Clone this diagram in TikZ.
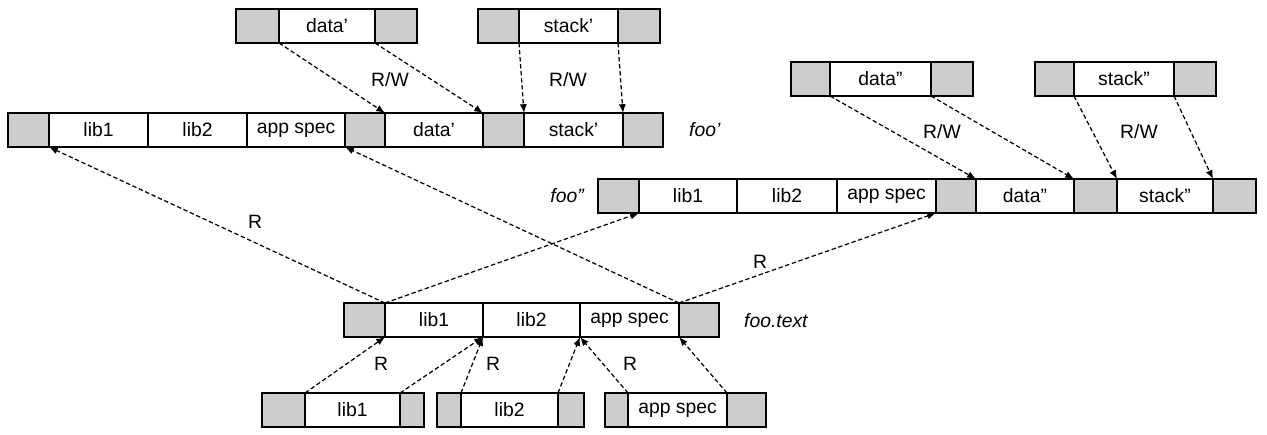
\documentclass[tikz,border=0pt]{standalone}
\usepackage{fontspec}
\setmainfont{Liberation Sans}
\usetikzlibrary{positioning,arrows.meta}
\definecolor{padgray}{gray}{0.80}
\begin{document}
\begin{tikzpicture}[x=0.02cm, y=-0.02cm,
    cell/.style={draw, line width=0.8pt, inner sep=0pt, outer sep=0pt,
        minimum height=0.68cm, font=\fontsize{11}{13}\selectfont},
    pad/.style={cell, fill=padgray, minimum width=#1*0.02cm},
    part/.style={cell, fill=white, minimum width=#1*0.02cm},
    link/.style={line width=0.7pt, dash pattern=on 2.5pt off 1.5pt,
        -{Latex[length=5pt,width=4pt]}},
    lbl/.style={font=\fontsize{11}{13}\selectfont},
    tag/.style={font=\fontsize{11}{13}\selectfont\itshape}]
    \useasboundingbox (0,0) rectangle (1267,434);

    % foo' address space
    \node[pad=41, anchor=north west] (fA1) at (8,113) {};
    \node[part=99, right=0pt of fA1] (fA2) {lib1};
    \node[part=99, right=0pt of fA2] (fA3) {lib2};
    \node[part=98, right=0pt of fA3] (fA4) {app spec};
    \node[pad=40, right=0pt of fA4] (fA5) {};
    \node[part=98, right=0pt of fA5] (fA6) {data'};
    \node[pad=41, right=0pt of fA6] (fA7) {};
    \node[part=99, right=0pt of fA7] (fA8) {stack'};
    \node[pad=40, right=0pt of fA8] (fA9) {};
    \node[tag, anchor=west] (tagA) at (683,130) {foo'};

    % foo'' address space
    \node[pad=41, anchor=north west] (fB1) at (598,179) {};
    \node[part=98, right=0pt of fB1] (fB2) {lib1};
    \node[part=100, right=0pt of fB2] (fB3) {lib2};
    \node[part=99, right=0pt of fB3] (fB4) {app spec};
    \node[pad=40, right=0pt of fB4] (fB5) {};
    \node[part=98, right=0pt of fB5] (fB6) {data"};
    \node[pad=43, right=0pt of fB6] (fB7) {};
    \node[part=96, right=0pt of fB7] (fB8) {stack"};
    \node[pad=43, right=0pt of fB8] (fB9) {};
    \node[tag, anchor=east] (tagB) at (590,196) {foo''};

    % shared text segment
    \node[pad=41, anchor=north west] (fT1) at (344,303) {};
    \node[part=98, right=0pt of fT1] (fT2) {lib1};
    \node[part=97, right=0pt of fT2] (fT3) {lib2};
    \node[part=99, right=0pt of fT3] (fT4) {app spec};
    \node[pad=40, right=0pt of fT4] (fT5) {};
    \node[tag, anchor=west] (tagT) at (738,321) {foo.text};

    % private data and stack pages
    \node[pad=43, anchor=north west] (dA1) at (236,9) {};
    \node[part=96, right=0pt of dA1] (dA2) {data'};
    \node[pad=42, right=0pt of dA2] (dA3) {};
    \node[pad=41, anchor=north west] (sA1) at (478,9) {};
    \node[part=99, right=0pt of sA1] (sA2) {stack'};
    \node[pad=42, right=0pt of sA2] (sA3) {};
    \node[pad=39, anchor=north west] (dB1) at (791,62) {};
    \node[part=101, right=0pt of dB1] (dB2) {data"};
    \node[pad=42, right=0pt of dB2] (dB3) {};
    \node[pad=39, anchor=north west] (sB1) at (1035,62) {};
    \node[part=100, right=0pt of sB1] (sB2) {stack"};
    \node[pad=42, right=0pt of sB2] (sB3) {};

    % library files
    \node[pad=43, anchor=north west] (bL1) at (262,393) {};
    \node[part=95, right=0pt of bL1] (bL2) {lib1};
    \node[pad=24, right=0pt of bL2] (bL3) {};
    \node[pad=24, anchor=north west] (bM1) at (437,393) {};
    \node[part=97, right=0pt of bM1] (bM2) {lib2};
    \node[pad=26, right=0pt of bM2] (bM3) {};
    \node[pad=23, anchor=north west] (bN1) at (605,393) {};
    \node[part=99, right=0pt of bN1] (bN2) {app spec};
    \node[pad=39, right=0pt of bN2] (bN3) {};

    % read/write mappings
    \foreach \a/\b in {dA2.south west/fA5.north east, dA2.south east/fA6.north east,
        sA2.south west/fA8.north west, sA2.south east/fA8.north east,
        dB2.south west/fB5.north east, dB2.south east/fB6.north east,
        sB2.south west/fB8.north west, sB2.south east/fB8.north east}
        \draw[link] (\a) -- (\b);
    % read-only mappings
    \foreach \a/\b in {fT1.north east/fA1.south east, fT4.north east/fA4.south east,
        fT1.north east/fB1.south east, fT4.north east/fB4.south east,
        bL2.north west/fT1.south east, bL2.north east/fT2.south east,
        bM2.north west/fT2.south east, bM2.north east/fT3.south east,
        bN2.north west/fT3.south east, bN2.north east/fT4.south east}
        \draw[link] (\a) -- (\b);

    \node[lbl] (rwA) at (390,80) {R/W};
    \node[lbl] (rwB) at (568,80) {R/W};
    \node[lbl] (rwC) at (942,132) {R/W};
    \node[lbl] (rwD) at (1139,132) {R/W};
    \node[lbl] (rA) at (255,222) {R};
    \node[lbl] (rB) at (760,262) {R};
    \node[lbl] (rC) at (381,364) {R};
    \node[lbl] (rD) at (493,364) {R};
    \node[lbl] (rE) at (630,364) {R};
\end{tikzpicture}
\end{document}
